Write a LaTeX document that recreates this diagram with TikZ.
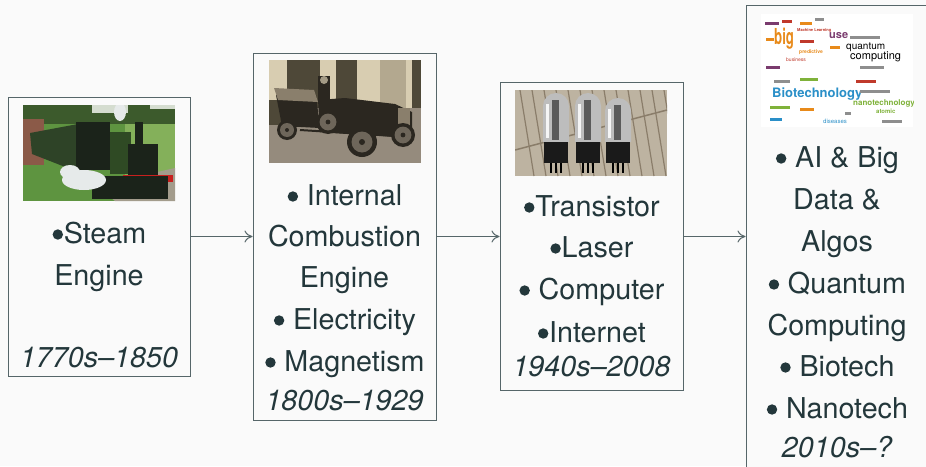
\documentclass[tikz,border=0pt]{standalone}
\usepackage{fontspec}
\setmainfont{TeX Gyre Heros}
\usetikzlibrary{arrows.meta}
\definecolor{bg}{HTML}{FAFAFA}
\definecolor{fg}{HTML}{23373B}
\definecolor{bd}{HTML}{566669}
% train
\definecolor{grass}{HTML}{5E9440}
\definecolor{trees}{HTML}{3C5A2C}
\definecolor{sky}{HTML}{D5DDD0}
\definecolor{lgrass}{HTML}{84B05A}
\definecolor{gravel}{HTML}{A39C8C}
\definecolor{brick}{HTML}{8B5A48}
\definecolor{coach}{HTML}{2E4327}
\definecolor{loco}{HTML}{1B231A}
\definecolor{tank}{HTML}{2F4A24}
\definecolor{beam}{HTML}{C8201E}
\definecolor{steam}{HTML}{E6EAEA}
% car
\definecolor{wall}{HTML}{D8CDB1}
\definecolor{hedge}{HTML}{4E4838}
\definecolor{ground}{HTML}{958B7D}
\definecolor{door}{HTML}{B3A88F}
\definecolor{carbody}{HTML}{2B2720}
\definecolor{spoke}{HTML}{6E665A}
\definecolor{hood}{HTML}{8A7F6C}
% tubes
\definecolor{tubebg}{HTML}{BDB3A1}
\definecolor{tubeln}{HTML}{8A7D6A}
\definecolor{glass}{HTML}{BDBDBD}
\definecolor{glassd}{HTML}{5A5A5A}
\definecolor{tbase}{HTML}{1A1A1A}
\definecolor{pin}{HTML}{B08A3A}
% cloud
\definecolor{wc1}{HTML}{E88A1A}
\definecolor{wc2}{HTML}{C0392B}
\definecolor{wc3}{HTML}{7A3B6E}
\definecolor{wc4}{HTML}{2A8FC8}
\definecolor{wc5}{HTML}{7FB23A}
\definecolor{wc6}{HTML}{8E8E8E}
\newcommand\bul{\tikz[x=1pt,y=1pt,baseline=0pt]{\fill[fg] (6,8.5) circle[radius=5.2];\path (0,0) (12,0);}}
\begin{document}
\begin{tikzpicture}[x=1pt,y=-1pt,
  frame/.style={draw=bd,line width=1pt,inner sep=0pt,fill=bg},
  lbl/.style={anchor=base,inner sep=0pt,text=fg,font=\fontsize{28.7}{34}\selectfont},
  datelbl/.style={anchor=base,inner sep=0pt,text=fg,font=\fontsize{28.7}{34}\selectfont\itshape},
  arr/.style={draw=bd,line width=1pt,-{To[length=8pt,width=12pt]}},
  wc/.style={inner sep=0pt,anchor=base west}]
\fill[bg] (0,0) rectangle (926,466);
\useasboundingbox (0,0) rectangle (926,466);
\clip (0,0) rectangle (926,466);

% boxes
\node[frame,minimum width=182pt,minimum height=279pt] (b1) at (99,236.5) {};
\node[frame,minimum width=183pt,minimum height=367pt] (b2) at (344.5,236.5) {};
\node[frame,minimum width=183pt,minimum height=308pt] (b3) at (591.5,236.5) {};
\node[frame,minimum width=183pt,minimum height=463pt] (b4) at (837.5,236.5) {};

\draw[arr] (b1.east) -- (b2.west);
\draw[arr] (b2.east) -- (b3.west);
\draw[arr] (b3.east) -- (b4.west);

% ---------- image 1 : train ----------
\begin{scope}
\clip (23,105) rectangle (175,201);
\fill[grass] (23,105) rectangle (175,201);
\fill[trees] (23,105) rectangle (175,124);
\fill[sky] (92,105) rectangle (128,113);
\fill[sky] (150,105) rectangle (175,109);
\fill[lgrass] (125,124) rectangle (175,176);
\fill[gravel] (95,186) -- (175,168) -- (175,201) -- (115,201) -- cycle;
\fill[brick] (23,119) rectangle (44,165);
\fill[coach] (30,133) -- (78,124) -- (78,172) -- (32,154) -- cycle;
\fill[loco] (76,122) rectangle (110,170);
\fill[tank] (110,132) rectangle (131,174);
\fill[loco] (128,144) rectangle (158,176);
\fill[loco] (143,158) circle[radius=12];
\fill[loco] (135,122) rectangle (143,146);
\fill[beam] (123,175) rectangle (173,182);
\fill[loco] (92,176) rectangle (168,199);
\fill[steam] (84,180) ellipse[x radius=22,y radius=10];
\fill[steam] (70,172) ellipse[x radius=10,y radius=7];
\fill[steam] (120,112) ellipse[x radius=6,y radius=9];
\end{scope}

% ---------- image 2 : car ----------
\begin{scope}
\clip (269,60) rectangle (421,163);
\fill[wall] (269,60) rectangle (421,108);
\fill[hedge] (287,60) rectangle (320,108);
\fill[hedge] (336,60) rectangle (357,108);
\fill[door] (380,60) rectangle (406,108);
\fill[hedge] (412,60) rectangle (421,108);
\fill[ground] (269,108) rectangle (421,163);
\fill[hedge] (269,100) rectangle (285,125);
% rear body and folded hood
\fill[carbody] (276,95) -- (316,95) -- (320,128) -- (282,126) -- cycle;
\fill[hood] (274,88) -- (314,90) -- (318,102) -- (278,100) -- cycle;
% driver
\fill[carbody] (318,76) rectangle (330,100);
\fill[wall!70!carbody] (324,80) circle[radius=4];
% front part
\fill[carbody] (318,100) -- (345,98) -- (395,104) -- (412,112) -- (412,138) -- (320,132) -- cycle;
\fill[hood] (398,108) rectangle (410,130);
\draw[carbody,line width=2pt] (300,130) -- (395,136);
\foreach \cx/\cy/\r in {287/130/10, 328/122/12, 362/142/15, 403/135/12}{
  \fill[carbody] (\cx,\cy) circle[radius=\r];
  \fill[spoke] (\cx,\cy) circle[radius=0.7*\r];
  \fill[carbody] (\cx,\cy) circle[radius=0.2*\r];
}
\end{scope}

% ---------- image 3 : tubes ----------
\begin{scope}
\clip (515,90) rectangle (667,176);
\fill[tubebg] (515,90) rectangle (667,176);
\foreach \xx in {520,532,544,556,568,580,592,604,616,628,640,652,664}{
  \draw[tubeln,line width=1.2pt] (\xx,90) -- (\xx+14,176);
}
\draw[tubeln,line width=1.5pt] (515,150) -- (667,110);
\foreach \cx/\top in {556/92, 588/92, 618/97}{
  \fill[glass] (\cx-13,142) -- (\cx-13,\top+14) arc[start angle=180,end angle=360,radius=13] -- (\cx+13,142) -- cycle;
  \fill[glassd] (\cx-4,\top+8) rectangle (\cx+3,140);
  \fill[white!85!glass] (\cx-10,\top+12) rectangle (\cx-7,138);
  \fill[tbase] (\cx-12,142) rectangle (\cx+12,163);
  \foreach \p in {-6,-1,4}{\fill[pin] (\cx+\p,163) rectangle (\cx+\p+2,173);}
}
\end{scope}

% ---------- image 4 : word cloud ----------
\begin{scope}
\clip (761,14) rectangle (913,127);
\fill[white] (761,14) rectangle (913,127);
\node[wc,text=wc1,font=\fontsize{22}{22}\selectfont\bfseries] (wbig) at (774,44) {\scalebox{0.6}[1]{big}};
\node[wc,text=wc2,font=\fontsize{4}{4}\selectfont\bfseries] (wml) at (797,31) {Machine Learning};
\node[wc,text=wc3,font=\fontsize{11}{11}\selectfont\bfseries] (wuse) at (829,38) {use};
\node[wc,text=wc1,font=\fontsize{5}{5}\selectfont\bfseries] (wpr) at (799,53) {predictive};
\node[wc,text=wc2,font=\fontsize{5}{5}\selectfont] (wbus) at (786,61) {business};
\node[wc,text=black,font=\fontsize{10}{10}\selectfont] (wq) at (846,49) {quantum};
\node[wc,text=black,font=\fontsize{11}{11}\selectfont] (wc) at (850,59) {computing};
\node[wc,text=wc4,font=\fontsize{13}{13}\selectfont\bfseries] (wbio) at (772,97) {Biotechnology};
\node[wc,text=wc5,font=\fontsize{8}{8}\selectfont\bfseries] (wnano) at (853,105) {nanotechnology};
\node[wc,text=wc5,font=\fontsize{6}{6}\selectfont\bfseries] (wat) at (876,113) {atomic};
\node[wc,text=wc4,font=\fontsize{6}{6}\selectfont] (wdis) at (823,123) {diseases};
\foreach \xx/\yy/\ww/\cc in {765/22/14/wc3, 782/20/10/wc2, 800/22/12/wc1, 815/18/9/wc6, 766/38/8/wc1, 800/40/14/wc2, 830/46/10/wc1, 766/66/14/wc3, 850/36/30/wc6, 860/66/24/wc6, 770/106/20/wc5, 800/108/14/wc1, 770/118/12/wc4, 845/112/6/wc6, 860/90/30/wc6, 856/80/20/wc2, 882/120/20/wc6, 774/80/16/wc6, 800/78/18/wc5}{
  \fill[\cc] (\xx,\yy) rectangle (\xx+\ww,\yy+2.5);
}
\end{scope}

% ---------- texts ----------
\node[lbl] (t1a) at (99,243) {\bul Steam};
\node[lbl] (t1b) at (99,285) {Engine};
\node[datelbl] (t1c) at (99,367) {1770s–1850};

\node[lbl] (t2a) at (344.5,205) {\bul\ Internal};
\node[lbl] (t2b) at (344.5,246) {Combustion};
\node[lbl] (t2c) at (344.5,287) {Engine};
\node[lbl] (t2d) at (344.5,329) {\bul\ Electricity};
\node[lbl] (t2e) at (344.5,371) {\bul\ Magnetism};
\node[datelbl] (t2f) at (344.5,410) {1800s–1929};

\node[lbl] (t3a) at (591.5,216) {\bul Transistor};
\node[lbl] (t3b) at (591.5,257) {\bul Laser};
\node[lbl] (t3c) at (591.5,299) {\bul\ Computer};
\node[lbl] (t3d) at (591.5,342) {\bul Internet};
\node[datelbl] (t3e) at (591.5,376) {1940s–2008};

\node[lbl] (t4a) at (837,167) {\bul\ AI \& Big};
\node[lbl] (t4b) at (837,209) {Data \&};
\node[lbl] (t4c) at (837,251) {Algos};
\node[lbl] (t4d) at (837,293) {\bul\ Quantum};
\node[lbl] (t4e) at (837,335) {Computing};
\node[lbl] (t4f) at (837,376) {\bul\ Biotech};
\node[lbl] (t4g) at (837,418) {\bul\ Nanotech};
\node[datelbl] (t4h) at (837,457) {2010s–?};
\end{tikzpicture}
\end{document}
